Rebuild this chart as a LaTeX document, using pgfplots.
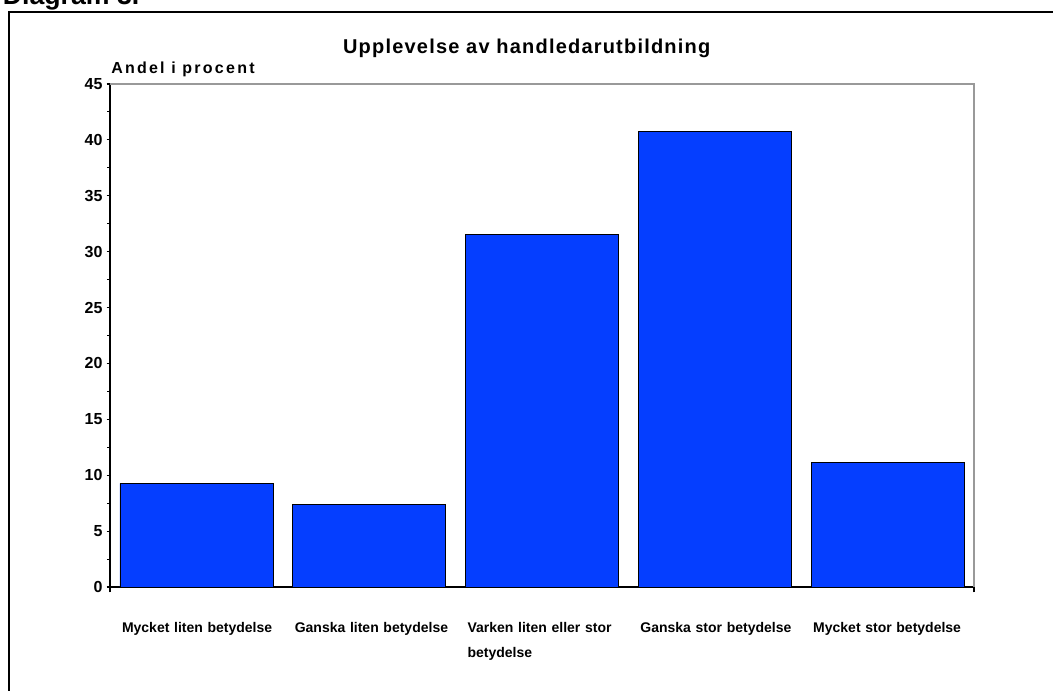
\documentclass[border=0pt]{standalone}
\usepackage{fontspec}
\setmainfont{Liberation Sans}
\usepackage{pgfplots}
\pgfplotsset{compat=1.18}
\definecolor{barblue}{RGB}{5,62,255}
\begin{document}
\begin{tikzpicture}
\useasboundingbox (0,0) rectangle (789.75pt,-517.5pt);
\draw[line width=1.5pt] (6.4pt,-8.8pt) rectangle (800pt,-530pt);
\node[anchor=base west, inner sep=0pt, font=\fontsize{20}{24}\selectfont\bfseries] at (2pt,-3pt) {Diagram 3.};
\node[anchor=base, inner sep=0pt, font=\fontsize{15}{18}\selectfont\bfseries\addfontfeature{LetterSpace=6}] at (395pt,-39.75pt) {Upplevelse av handledarutbildning};
\node[anchor=base west, inner sep=0pt, font=\fontsize{12}{14}\selectfont\bfseries\addfontfeature{LetterSpace=14}] at (83.25pt,-54.75pt) {Andel i procent};
\begin{axis}[
  at={(82.5pt,-440.25pt)}, anchor=south west,
  width=648pt, height=377.25pt, scale only axis,
  xmin=-0.5, xmax=4.5, ymin=0, ymax=45,
  axis x line*=bottom, axis y line*=left,
  axis line style={black, line width=1.1pt},
  tick align=outside,
  ytick={0,5,...,45},
  minor y tick num=1,
  major tick length=2.5pt, minor tick length=2.2pt,
  every tick/.style={black, line width=0.8pt},
  /pgf/number format/assume math mode=true,
  yticklabel style={font=\fontsize{12}{14}\selectfont\bfseries, inner sep=0pt, xshift=-3pt},
  xtick={0,1,2,3,4},
  xticklabels={Mycket liten betydelse, Ganska liten betydelse, {Varken liten eller stor\\betydelse}, Ganska stor betydelse, Mycket stor betydelse},
  x tick style={draw=none},
  xticklabel style={anchor=north west, align=left, text width=170pt, inner sep=0pt, xshift=-56pt, yshift=-24pt, font=\fontsize{10.5}{18.75}\selectfont\bfseries},
  extra x ticks={-0.5,4.5},
  extra x tick labels={},
  extra x tick style={x tick style={draw=black, line width=1.1pt}, major tick length=4pt},
  ybar, bar width=114.75pt,
  clip=false,
]
\addplot[fill=barblue, draw=black, line width=0.6pt] coordinates {(0,9.28) (1,7.40) (2,31.55) (3,40.72) (4,11.15)};
\draw[gray!80, line width=0.8pt] (rel axis cs:0,1) -- (rel axis cs:1,1) -- (rel axis cs:1,0);
\end{axis}
\end{tikzpicture}
\end{document}
